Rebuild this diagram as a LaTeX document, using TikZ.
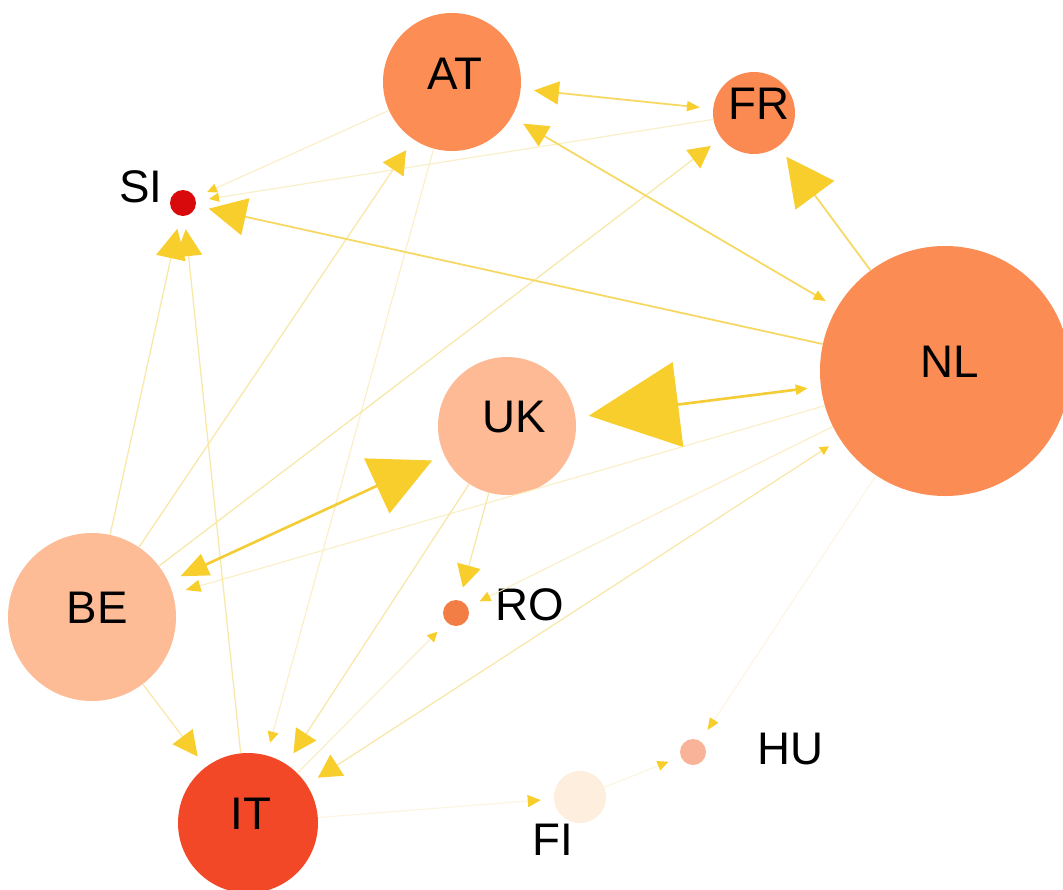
\documentclass[tikz,border=0pt]{standalone}
\usepackage{fontspec}
\setmainfont{Liberation Sans}
\usetikzlibrary{arrows.meta,positioning}

\definecolor{cNL}{HTML}{FB8C54}
\definecolor{cAT}{HTML}{FB8D55}
\definecolor{cFR}{HTML}{FA8A52}
\definecolor{cSI}{HTML}{D90A0C}
\definecolor{cUK}{HTML}{FDBA95}
\definecolor{cBE}{HTML}{FDBB96}
\definecolor{cIT}{HTML}{F24827}
\definecolor{cRO}{HTML}{F27E46}
\definecolor{cHU}{HTML}{F9B398}
\definecolor{cFI}{HTML}{FDEEDD}
\definecolor{tipgold}{HTML}{F8CE2C}
\definecolor{linkheavy}{HTML}{F4CC35}
\definecolor{linkmid}{HTML}{F6D862}
\definecolor{linklight}{HTML}{F8E7A6}
\definecolor{linkfaint}{HTML}{FAEEC4}
\definecolor{linkpale}{HTML}{FCF5DE}

\begin{document}
\begin{tikzpicture}[
        x=0.2mm, y=-0.2mm,
        country/.style={circle, draw=none, inner sep=0pt},
        lbl/.style={inner sep=0pt, text=black, font=\fontsize{26}{30}\selectfont},
        flowheavy/.style={draw=linkheavy, line width=1.5pt},
        flowmid/.style={draw=linkmid, line width=1pt},
        flowlight/.style={draw=linklight, line width=0.7pt},
        flowfaint/.style={draw=linkfaint, line width=0.6pt},
        flowpale/.style={draw=linkpale, line width=0.6pt},
        arrowto/.style 2 args={-{Triangle[length=#1,width=#2,color=tipgold]}, shorten >=2.6mm},
        arrowboth/.style n args={4}{{Triangle[length=#1,width=#2,color=tipgold]}-{Triangle[length=#3,width=#4,color=tipgold]}, shorten <=2.6mm, shorten >=2.6mm},
    ]
    \fill[white] (0,0) rectangle (1063,890);
    \useasboundingbox (0,0) rectangle (1063,890);

    % === COUNTRIES ===
    \node[country, fill=cAT, minimum size=27.6mm] (AT) at (452,82) {};
    \node[lbl] (ATlabel) at ([shift={(3,-8)}]AT.center) {AT};

    \node[country, fill=cFR, minimum size=16.4mm] (FR) at (754,113) {};
    \node[lbl] (FRlabel) at ([shift={(5,-9)}]FR.center) {FR};

    \node[country, fill=cSI, minimum size=5.2mm] (SI) at (183,203) {};
    \node[lbl, left=1.4mm of SI, yshift=3.2mm] (SIlabel) {SI};

    \node[country, fill=cNL, minimum size=50mm] (NL) at (945,371) {};
    \node[lbl] (NLlabel) at ([shift={(5,-9)}]NL.center) {NL};

    \node[country, fill=cUK, minimum size=27.6mm] (UK) at (507,426) {};
    \node[lbl] (UKlabel) at ([shift={(7,-9)}]UK.center) {UK};

    \node[country, fill=cBE, minimum size=33.6mm] (BE) at (92,617) {};
    \node[lbl] (BElabel) at ([shift={(5,-9)}]BE.center) {BE};

    \node[country, fill=cRO, minimum size=5.2mm] (RO) at (456,613) {};
    \node[lbl, right=5.2mm of RO, yshift=1.6mm] (ROlabel) {RO};

    \node[country, fill=cIT, minimum size=28mm] (IT) at (248,823) {};
    \node[lbl] (ITlabel) at ([shift={(3,-9)}]IT.center) {IT};

    \node[country, fill=cFI, minimum size=10.4mm] (FI) at (580,797) {};
    \node[lbl, below=0mm of FI, xshift=-5.4mm] (FIlabel) {FI};

    \node[country, fill=cHU, minimum size=5.2mm] (HU) at (693,752) {};
    \node[lbl, right=10.2mm of HU, yshift=0.6mm] (HUlabel) {HU};

    % === FLOWS ===
    \draw[flowpale, arrowto={2.6mm}{2.4mm}] (IT) -- (FI);
    \draw[flowpale, arrowto={2.2mm}{2mm}] (FI) -- (HU);
    \draw[flowpale, arrowto={2.4mm}{2mm}] (NL) -- (HU);

    \draw[flowfaint, arrowto={2mm}{1.8mm}] (AT) -- (SI);
    \draw[flowfaint, arrowto={2mm}{1.8mm}] (FR) -- (SI);
    \draw[flowfaint, arrowto={2.2mm}{2.2mm}] (AT) -- (IT);
    \draw[flowfaint, arrowto={2.2mm}{2mm}] (NL) -- (RO);
    \draw[flowfaint, arrowto={2mm}{2mm}] (IT) -- (RO);
    \draw[flowfaint, arrowto={3mm}{2.4mm}] (NL) -- (BE);

    \draw[flowlight, arrowto={6mm}{6mm}] (BE) -- (SI);
    \draw[flowlight, arrowto={5.4mm}{5.4mm}] (IT) -- (SI);
    \draw[flowlight, arrowto={4.6mm}{5mm}] (BE) -- (AT);
    \draw[flowlight, arrowto={4.4mm}{4.6mm}] (BE) -- (FR);
    \draw[flowlight, arrowto={5mm}{5mm}] (BE) -- (IT);
    \draw[flowlight, arrowto={4.6mm}{4.8mm}] (UK) -- (IT);
    \draw[flowlight, arrowto={4.5mm}{4.8mm}] (UK) -- (RO);
    \draw[flowlight, arrowboth={1.8mm}{1.8mm}{4.6mm}{5mm}] (NL) -- (IT);

    \draw[flowmid, arrowto={7.5mm}{7.5mm}] (NL) -- (SI);
    \draw[flowmid, arrowto={9.6mm}{9.6mm}] (NL) -- (FR);
    \draw[flowmid, arrowboth={2.6mm}{2mm}{5mm}{4.6mm}] (FR) -- (AT);
    \draw[flowmid, arrowboth={2.4mm}{2mm}{5mm}{4.6mm}] (NL) -- (AT);

    \draw[flowheavy, arrowboth={2.4mm}{2mm}{18mm}{17mm}] (NL) -- (UK);
    \draw[flowheavy, arrowboth={5.6mm}{4.6mm}{12.2mm}{12mm}] (BE) -- (UK);

\end{tikzpicture}
\end{document}
